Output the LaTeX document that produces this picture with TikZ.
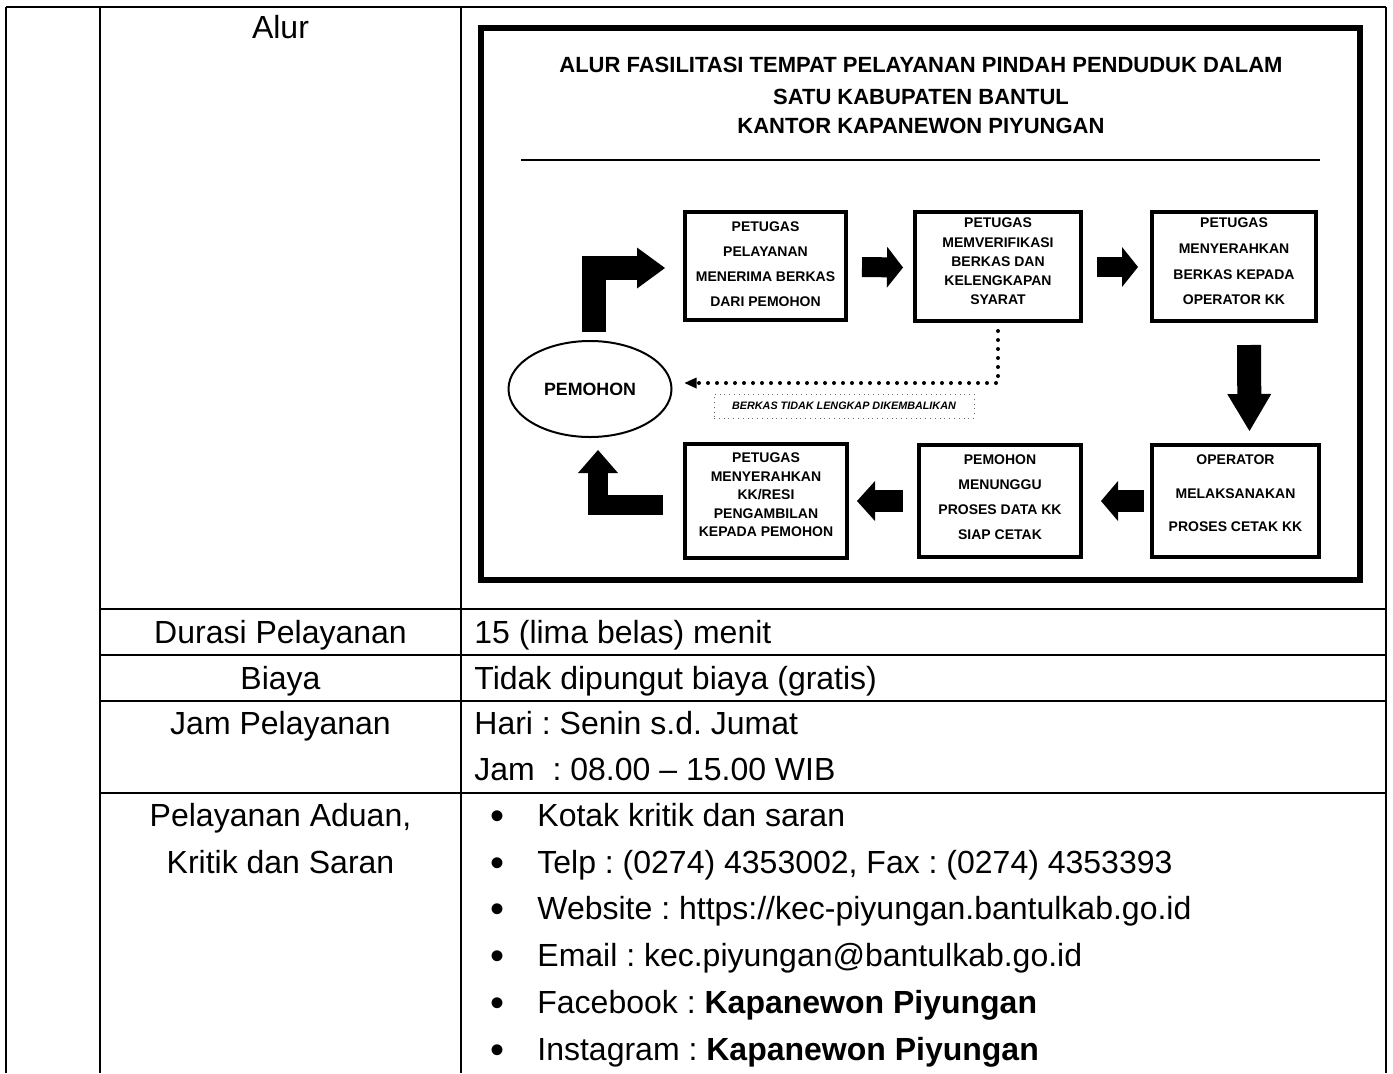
\documentclass[tikz,border=0pt]{standalone}
\usepackage{fontspec}
\setmainfont{Liberation Sans}
\usetikzlibrary{arrows.meta,shapes.geometric,calc}
\frenchspacing

\begin{document}
\begin{tikzpicture}[x=0.5pt,y=-0.5pt,
  tabline/.style={line width=1pt},
  celltext/.style={font=\fontsize{16}{19}\selectfont, inner sep=0pt, anchor=base},
  leftcell/.style={celltext, anchor=base west},
  bullettext/.style={font=\fontsize{20}{20}\selectfont, inner sep=0pt, anchor=base},
  titletext/.style={font=\bfseries\fontsize{11}{13}\selectfont, inner sep=0pt},
  stepbox/.style={draw, line width=2pt, inner sep=0pt},
  steptext/.style={font=\bfseries\fontsize{7}{#1}\selectfont, align=center, inner sep=0pt},
  blk/.style={draw, line width=#1, line join=miter, line cap=butt},
  dotline/.style={line width=2pt, line cap=round, dash pattern=on 0pt off 4.5pt,
                  -{Triangle[length=6pt,width=5.5pt,line width=0pt]}},
]
\useasboundingbox (0,0) rectangle (1393,1073);

% ---- table grid ----
\draw[tabline] (6,7) -- (1386,7);
\foreach \x in {6,100,461,1386} \draw[tabline] (\x,7) -- (\x,1073);
\foreach \y in {609,655,701,793} \draw[tabline] (100,\y) -- (1386,\y);

% ---- left column labels ----
\node[celltext] (lalur) at (280.5,38) {Alur};
\node[celltext] (ldurasi) at (280.5,643) {Durasi Pelayanan};
\node[celltext] (lbiaya) at (280.5,689) {Biaya};
\node[celltext] (ljam) at (280.5,734) {Jam Pelayanan};
\node[celltext] (laduan) at (280.5,826) {Pelayanan Aduan,};
\node[celltext] (lkritik) at (280.5,873) {Kritik dan Saran};

% ---- right column values ----
\node[leftcell] (vdurasi) at (474,643) {15 (lima belas) menit};
\node[leftcell] (vbiaya) at (474,689) {Tidak dipungut biaya (gratis)};
\node[leftcell] (vhari) at (474,734) {Hari : Senin s.d. Jumat};
\node[leftcell] (vjam) at (474,780) {Jam\ \ : 08.00 – 15.00 WIB};

\foreach \y/\n in {826/1,873/2,919/3,966/4,1013/5,1060/6}
  \node[bullettext] (bul\n) at (497,\y+3) {•};
\node[leftcell] (item1) at (537,826) {Kotak kritik dan saran};
\node[leftcell] (item2) at (537,873) {Telp : (0274) 4353002, Fax : (0274) 4353393};
\node[leftcell] (item3) at (537,919) {Website : https://kec-piyungan.bantulkab.go.id};
\node[leftcell] (item4) at (537,966) {Email : kec.piyungan@bantulkab.go.id};
\node[leftcell] (item5) at (537,1013) {Facebook : \textbf{Kapanewon Piyungan}};
\node[leftcell] (item6) at (537,1060) {Instagram : \textbf{Kapanewon Piyungan}};

% ---- flow chart frame and heading ----
\draw[line width=3pt] (481,28) rectangle (1360,580);
\node[titletext] (title1) at (921,65) {ALUR FASILITASI TEMPAT PELAYANAN PINDAH PENDUDUK DALAM};
\node[titletext] (title2) at (921,97) {SATU KABUPATEN BANTUL};
\node[titletext] (title3) at (921,126) {KANTOR KAPANEWON PIYUNGAN};
\draw[line width=1pt] (521,160) -- (1320,160);

% ---- process boxes ----
\node[stepbox, minimum width=80.5pt, minimum height=54pt] (b1) at (765.5,266) {};
\node[stepbox, minimum width=83pt, minimum height=54.5pt] (b2) at (998,266.5) {};
\node[stepbox, minimum width=82pt, minimum height=54.5pt] (b3) at (1234,266.5) {};
\node[stepbox, minimum width=81pt, minimum height=57pt] (b4) at (766,501) {};
\node[stepbox, minimum width=81pt, minimum height=56pt] (b5) at (1000,501) {};
\node[stepbox, minimum width=83.5pt, minimum height=56pt] (b6) at (1235.5,501) {};

\node[steptext=12.5pt] (t1) at ([yshift=1pt]b1.center) {PETUGAS\\PELAYANAN\\MENERIMA BERKAS\\DARI PEMOHON};
\node[steptext=9.6pt] (t2) at ([yshift=2.5pt]b2.center) {PETUGAS\\MEMVERIFIKASI\\BERKAS DAN\\KELENGKAPAN\\SYARAT};
\node[steptext=12.8pt] (t3) at ([yshift=2.5pt]b3.center) {PETUGAS\\MENYERAHKAN\\BERKAS KEPADA\\OPERATOR KK};
\node[steptext=9.25pt] (t4) at ([yshift=3pt]b4.center) {PETUGAS\\MENYERAHKAN\\KK/RESI\\PENGAMBILAN\\KEPADA PEMOHON};
\node[steptext=12.5pt] (t5) at ([yshift=1.75pt]b5.center) {PEMOHON\\MENUNGGU\\PROSES DATA KK\\SIAP CETAK};
\node[steptext=16.75pt] (t6) at ([yshift=3.75pt]b6.center) {OPERATOR\\MELAKSANAKAN\\PROSES CETAK KK};

% ---- applicant ----
\node[ellipse, draw, line width=1pt, inner sep=0pt, minimum width=81.5pt, minimum height=48pt,
      font=\bfseries\fontsize{8.9}{10}\selectfont] (pem) at (590,389) {PEMOHON};

% ---- block arrows ----
\draw[blk=10pt, -{Triangle[length=8pt,width=20.5pt,line width=0pt]}]
  ($(b1.east)+(14,1)$) -- ($(b2.west)+(-10,1)$);
\draw[blk=10pt, -{Triangle[length=8pt,width=20pt,line width=0pt]}]
  ($(b2.east)+(14,0.5)$) -- ($(b3.west)+(-12,0.5)$);
\draw[blk=12pt, -{Triangle[length=18.5pt,width=22pt,line width=0pt]}]
  ($(b3.south)+(15,22)$) -- ($(b6.north)+(14,-12)$);
\draw[blk=11pt, -{Triangle[length=8.5pt,width=20pt,line width=0pt]}]
  ($(b6.west)+(-6,0)$) -- ($(b5.east)+(18,0)$);
\draw[blk=11pt, -{Triangle[length=9pt,width=20pt,line width=0pt]}]
  ($(b5.west)+(-14,0)$) -- ($(b4.east)+(8,0)$);
\draw[blk=12pt, -{Triangle[length=14pt,width=20.5pt,line width=0pt]}]
  ($(pem.north)+(4,-8)$) |- ($(b1.west)+(-18,2)$);
\draw[blk=10pt, -{Triangle[length=11.5pt,width=20pt,line width=0pt]}]
  ($(b4.west)+(-20,4)$) -| ($(pem.south)+(8,12)$);

% ---- returned documents ----
\draw[dotline] ($(b2.south)+(0,8)$) |- ($(pem.east)+(12,-6)$);
\node[draw=black!60, line width=0.4pt, dotted, minimum width=130pt, minimum height=12pt, inner sep=0pt,
      font=\bfseries\itshape\fontsize{5.4}{6}\selectfont] (lbl) at (844,406)
  {BERKAS TIDAK LENGKAP DIKEMBALIKAN};
\end{tikzpicture}
\end{document}
